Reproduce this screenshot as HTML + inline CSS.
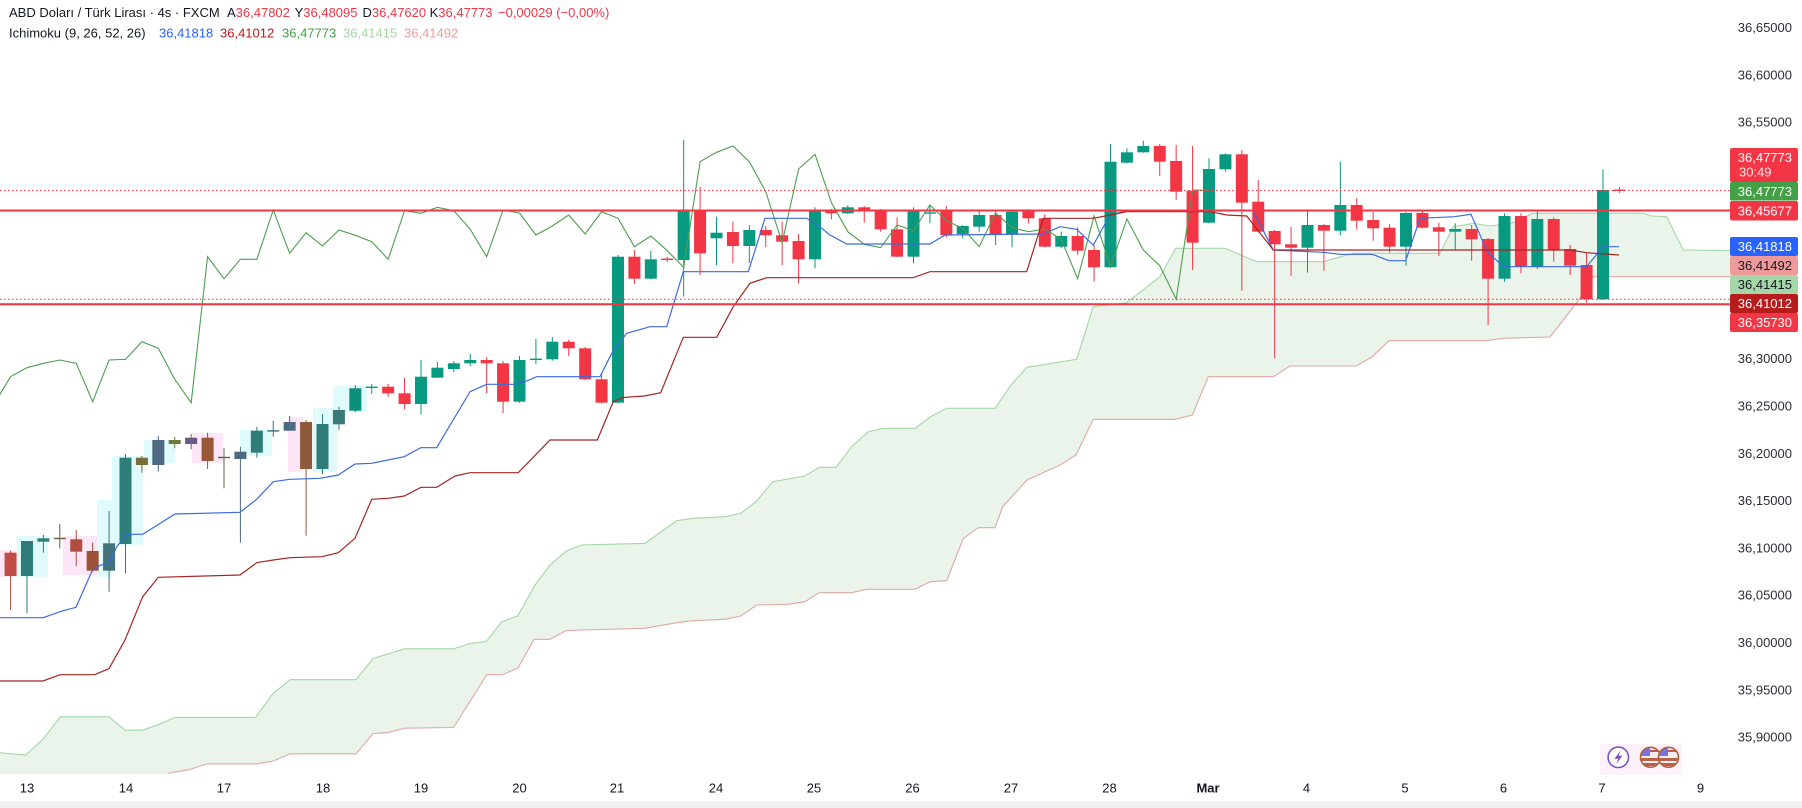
<!DOCTYPE html>
<html><head><meta charset="utf-8">
<style>
html,body{margin:0;padding:0;background:#fff;}
svg{display:block;}
text{font-family:"Liberation Sans",Arial,sans-serif;font-size:13px;}
.g{fill:#089981}.r{fill:#f23645}
</style></head>
<body>
<svg width="1802" height="808" viewBox="0 0 1802 808" xmlns="http://www.w3.org/2000/svg">
<defs>
<clipPath id="plot"><rect x="0" y="0" width="1730" height="774"/></clipPath>
<clipPath id="f1"><circle cx="1650.5" cy="757.3" r="10"/></clipPath>
<clipPath id="f2"><circle cx="1668.5" cy="757.3" r="10"/></clipPath>
</defs>
<rect width="1802" height="808" fill="#fff"/>
<g clip-path="url(#plot)">
<!-- highlight rects -->
<g opacity="0.9">
<rect x="0" y="550" width="16" height="27" fill="#fde4f5"/>
<rect x="17" y="536" width="31" height="41" fill="#dcfbfb"/>
<rect x="63" y="536" width="35" height="39" fill="#fde4f5"/>
<rect x="97" y="500" width="15" height="77" fill="#dcfbfb"/>
<rect x="112" y="456" width="31" height="89" fill="#dcfbfb"/>
<rect x="144" y="440" width="31" height="23" fill="#dcfbfb"/>
<rect x="192" y="433" width="31" height="30" fill="#fde4f5"/>
<rect x="240" y="430" width="32" height="26" fill="#dcfbfb"/>
<rect x="288" y="417" width="15" height="55" fill="#fde4f5"/>
<rect x="313" y="408" width="24" height="64" fill="#dcfbfb"/>
<rect x="333" y="386" width="34" height="26" fill="#dcfbfb"/>
</g>
<!-- cloud -->
<path fill="#eaf4eb" d="M0,752.8 L25.8,755 L43,739.3 L60.3,716.8 L109,716.8 L125,730.2 L142.4,730.2 L157.9,724.8 L175,717.4 L255.5,717.4 L272.7,693.9 L290,679.7 L356,679.7 L373,658.5 L404.7,648.8 L453.5,648.8 L470.7,643.4 L486,641.7 L501.7,621.7 L517.7,616 L535,585 L550,565 L566.7,550.7 L581.7,545 L645,543.3 L676.7,520.7 L693.3,518.3 L725,516.7 L740.7,513.3 L756,501.7 L772.7,481.7 L805,476 L819.3,467.3 L836,467.3 L851.7,446.7 L868.3,431.7 L883.3,428.3 L915,428.3 L931.7,416 L946.7,408.3 L995,408.3 L1011,385 L1027,367.3 L1076.7,359.3 L1093.3,306.7 L1126.7,302.7 L1160,276.7 L1175.7,248.3 L1225,248.3 L1256.7,261.7 L1323.3,261.7 L1353.3,253.3 L1440,253.3 L1453.3,226.7 L1473.3,223.3 L1490,226 L1511.7,223.3 L1533,213.3 L1643.3,213.3 L1651.7,216 L1666.7,216.7 L1683.3,250 L1740,250.7 L1740,276.7 L1593,276.7 L1580,298.3 L1563.3,320 L1550,337 L1503.3,338.3 L1486.7,340.7 L1389,340.7 L1372.3,356.7 L1356,366 L1290,366 L1273.3,376.7 L1208.3,376.7 L1192.3,415 L1175.7,419.3 L1093.3,419.3 L1076,455 L1060,465 L1027,480 L1002.7,506.7 L995,527.7 L978.3,527.7 L963.3,538.3 L946.7,580.7 L930,581.7 L915,589.3 L866.7,589.3 L851.7,592.7 L819.3,592.7 L805,601.7 L788.3,604.3 L756.7,605 L740.7,616 L725,619.3 L693.3,620.7 L676.7,622.7 L645,628.3 L581.7,630 L566,630.7 L550,639.3 L534,639.3 L518,668 L502.3,674.7 L486.8,674.7 L453.5,727.5 L404.7,728.2 L387.5,732.6 L373,733.6 L356,753.8 L290,753.8 L272.7,761.2 L255.5,763.9 L206.7,763.9 L189.4,769.6 L169.3,773 L160,800 L0,800 Z"/>
<polyline fill="none" stroke="#a5d6a7" stroke-width="1.1" points="0,752.8 25.8,755 43,739.3 60.3,716.8 109,716.8 125,730.2 142.4,730.2 157.9,724.8 175,717.4 255.5,717.4 272.7,693.9 290,679.7 356,679.7 373,658.5 404.7,648.8 453.5,648.8 470.7,643.4 486,641.7 501.7,621.7 517.7,616 535,585 550,565 566.7,550.7 581.7,545 645,543.3 676.7,520.7 693.3,518.3 725,516.7 740.7,513.3 756,501.7 772.7,481.7 805,476 819.3,467.3 836,467.3 851.7,446.7 868.3,431.7 883.3,428.3 915,428.3 931.7,416 946.7,408.3 995,408.3 1011,385 1027,367.3 1076.7,359.3 1093.3,306.7 1126.7,302.7 1160,276.7 1175.7,248.3 1225,248.3 1256.7,261.7 1323.3,261.7 1353.3,253.3 1440,253.3 1453.3,226.7 1473.3,223.3 1490,226 1511.7,223.3 1533,213.3 1643.3,213.3 1651.7,216 1666.7,216.7 1683.3,250 1740,250.7"/>
<polyline fill="none" stroke="#e0a8a4" stroke-width="1.1" points="160,800 169.3,773 189.4,769.6 206.7,763.9 255.5,763.9 272.7,761.2 290,753.8 356,753.8 373,733.6 387.5,732.6 404.7,728.2 453.5,727.5 486.8,674.7 502.3,674.7 518,668 534,639.3 550,639.3 566,630.7 581.7,630 645,628.3 676.7,622.7 693.3,620.7 725,619.3 740.7,616 756.7,605 788.3,604.3 805,601.7 819.3,592.7 851.7,592.7 866.7,589.3 915,589.3 930,581.7 946.7,580.7 963.3,538.3 978.3,527.7 995,527.7 1002.7,506.7 1027,480 1060,465 1076,455 1093.3,419.3 1175.7,419.3 1192.3,415 1208.3,376.7 1273.3,376.7 1290,366 1356,366 1372.3,356.7 1389,340.7 1486.7,340.7 1503.3,338.3 1550,337 1563.3,320 1580,298.3 1593,276.7 1740,276.7"/>

<!-- candles -->
<g transform="translate(27 0) scale(16.4167 1)">
<rect x="-1.366" y="552.7" width=".731" height="23.3" fill="#c14b45"/><rect x="-1.031" y="550.7" width=".061" height="59.3" fill="#c14b45"/>
<rect x="-0.366" y="541" width=".731" height="35" fill="#2f7d78"/><rect x="-0.031" y="541" width=".061" height="72.3" fill="#2f7d78"/>
<rect x="0.634" y="538.3" width=".731" height="3.4" fill="#2f7d78"/><rect x="0.969" y="535" width=".061" height="17.7" fill="#2f7d78"/>
<rect x="1.634" y="537.8" width=".731" height="1.4" fill="#6a5a48"/><rect x="1.969" y="524" width=".061" height="24.3" fill="#6a5a48"/>
<rect x="2.634" y="539.3" width=".731" height="12.4" fill="#b14c40"/><rect x="2.969" y="530" width=".061" height="36" fill="#b14c40"/>
<rect x="3.634" y="551" width=".731" height="19.7" fill="#9a5238"/><rect x="3.969" y="542.7" width=".061" height="28" fill="#9a5238"/>
<rect x="4.634" y="543.3" width=".731" height="27.4" fill="#44707a"/><rect x="4.969" y="511" width=".061" height="80.7" fill="#44707a"/>
<rect x="5.634" y="457.7" width=".731" height="86.3" fill="#2f7d78"/><rect x="5.969" y="454" width=".061" height="119.3" fill="#2f7d78"/>
<rect x="6.634" y="457.7" width=".731" height="7.3" fill="#7b6c3c"/><rect x="6.969" y="456" width=".061" height="16.7" fill="#7b6c3c"/>
<rect x="7.634" y="440" width=".731" height="25" fill="#4d6a82"/><rect x="7.969" y="436" width=".061" height="35.7" fill="#4d6a82"/>
<rect x="8.634" y="440" width=".731" height="4" fill="#6e7a3c"/><rect x="8.969" y="437" width=".061" height="11.3" fill="#6e7a3c"/>
<rect x="9.634" y="437.7" width=".731" height="6.3" fill="#6a5a86"/><rect x="9.969" y="434" width=".061" height="15.3" fill="#6a5a86"/>
<rect x="10.634" y="437.7" width=".731" height="23.3" fill="#985838"/><rect x="10.969" y="432.7" width=".061" height="36.3" fill="#985838"/>
<rect x="11.634" y="456.8" width=".731" height="1.4" fill="#6a5a48"/><rect x="11.969" y="448.3" width=".061" height="40" fill="#6a5a48"/>
<rect x="12.634" y="451.7" width=".731" height="7.3" fill="#4d6a82"/><rect x="12.969" y="446.7" width=".061" height="96" fill="#4d6a82"/>
<rect x="13.634" y="430.7" width=".731" height="22" fill="#2f7d78"/><rect x="13.969" y="426.7" width=".061" height="31" fill="#2f7d78"/>
<rect x="14.634" y="430.2" width=".731" height="1.4" fill="#3f6f70"/><rect x="14.969" y="420.7" width=".061" height="16" fill="#3f6f70"/>
<rect x="15.634" y="422" width=".731" height="8.7" fill="#4d6a82"/><rect x="15.969" y="416" width=".061" height="14.7" fill="#4d6a82"/>
<rect x="16.634" y="422" width=".731" height="47" fill="#8f5a3a"/><rect x="16.969" y="420" width=".061" height="115.7" fill="#8f5a3a"/>
<rect x="17.634" y="424" width=".731" height="45" fill="#2f7d78"/><rect x="17.969" y="414.3" width=".061" height="59.7" fill="#2f7d78"/>
<rect x="18.634" y="410" width=".731" height="14.3" fill="#3a7a78"/><rect x="18.969" y="406.7" width=".061" height="23.3" fill="#3a7a78"/>
<rect x="19.634" y="388.3" width=".731" height="22.4" fill="#0e8f7c"/><rect x="19.969" y="385" width=".061" height="27" fill="#0e8f7c"/>
<rect class="g" x="20.634" y="386.6" width=".731" height="1.4"/><rect class="g" x="20.969" y="384" width=".061" height="10"/>
<rect class="r" x="21.634" y="386.7" width=".731" height="6.6"/><rect class="r" x="21.969" y="384" width=".061" height="12.7"/>
<rect class="r" x="22.634" y="393.3" width=".731" height="10.7"/><rect class="r" x="22.969" y="377.7" width=".061" height="31.6"/>
<rect class="g" x="23.634" y="376.7" width=".731" height="27.3"/><rect class="g" x="23.969" y="360" width=".061" height="54.3"/>
<rect class="g" x="24.634" y="367.7" width=".731" height="10"/><rect class="g" x="24.969" y="362" width=".061" height="15.7"/>
<rect class="g" x="25.634" y="363.3" width=".731" height="5.7"/><rect class="g" x="25.969" y="361" width=".061" height="11"/>
<rect class="g" x="26.634" y="360" width=".731" height="3.3"/><rect class="g" x="26.969" y="354" width=".061" height="12"/>
<rect class="r" x="27.634" y="360" width=".731" height="3.3"/><rect class="r" x="27.969" y="357" width=".061" height="36.3"/>
<rect class="r" x="28.634" y="363.3" width=".731" height="38.4"/><rect class="r" x="28.969" y="361" width=".061" height="52"/>
<rect class="g" x="29.634" y="360" width=".731" height="41.7"/><rect class="g" x="29.969" y="356" width=".061" height="46.7"/>
<rect class="g" x="30.634" y="358.6" width=".731" height="1.4"/><rect class="g" x="30.969" y="339" width=".061" height="25"/>
<rect class="g" x="31.634" y="341.7" width=".731" height="17.6"/><rect class="g" x="31.969" y="337" width=".061" height="23.7"/>
<rect class="r" x="32.634" y="341.7" width=".731" height="6.6"/><rect class="r" x="32.969" y="340" width=".061" height="16"/>
<rect class="r" x="33.634" y="348.3" width=".731" height="31"/><rect class="r" x="33.969" y="347" width=".061" height="33"/>
<rect class="r" x="34.634" y="379.3" width=".731" height="23.4"/><rect class="r" x="34.969" y="373" width=".061" height="30.5"/>
<rect class="g" x="35.634" y="256.7" width=".731" height="146"/><rect class="g" x="35.969" y="255" width=".061" height="148.5"/>
<rect class="r" x="36.634" y="256.7" width=".731" height="22"/><rect class="r" x="36.969" y="250" width=".061" height="34"/>
<rect class="g" x="37.634" y="259.3" width=".731" height="19.4"/><rect class="g" x="37.969" y="251" width=".061" height="28.5"/>
<rect class="r" x="38.634" y="258.6" width=".731" height="1.4"/><rect class="r" x="38.969" y="256.7" width=".061" height="5"/>
<rect class="g" x="39.634" y="210" width=".731" height="50"/><rect class="g" x="39.969" y="140" width=".061" height="156.7"/>
<rect class="r" x="40.634" y="210.7" width=".731" height="42.6"/><rect class="r" x="40.969" y="186.7" width=".061" height="88.3"/>
<rect class="g" x="41.634" y="232.7" width=".731" height="5.6"/><rect class="g" x="41.969" y="216.7" width=".061" height="48.3"/>
<rect class="r" x="42.634" y="232" width=".731" height="14"/><rect class="r" x="42.969" y="221.7" width=".061" height="41.6"/>
<rect class="g" x="43.634" y="230" width=".731" height="16"/><rect class="g" x="43.969" y="225" width=".061" height="38"/>
<rect class="r" x="44.634" y="230" width=".731" height="5.3"/><rect class="r" x="44.969" y="226" width=".061" height="21.3"/>
<rect class="r" x="45.634" y="235.3" width=".731" height="6.4"/><rect class="r" x="45.969" y="221.7" width=".061" height="43.3"/>
<rect class="r" x="46.634" y="241" width=".731" height="18.3"/><rect class="r" x="46.969" y="234" width=".061" height="49.3"/>
<rect class="g" x="47.634" y="210.7" width=".731" height="48.6"/><rect class="g" x="47.969" y="207.3" width=".061" height="61"/>
<rect class="r" x="48.634" y="210" width=".731" height="3.3"/><rect class="r" x="48.969" y="209" width=".061" height="10.3"/>
<rect class="g" x="49.634" y="207.3" width=".731" height="6"/><rect class="g" x="49.969" y="205" width=".061" height="9"/>
<rect class="r" x="50.634" y="207.3" width=".731" height="3.4"/><rect class="r" x="50.969" y="206" width=".061" height="16.7"/>
<rect class="r" x="51.634" y="210" width=".731" height="19.3"/><rect class="r" x="51.969" y="209" width=".061" height="22.7"/>
<rect class="r" x="52.634" y="229.3" width=".731" height="27.4"/><rect class="r" x="52.969" y="217.3" width=".061" height="39.7"/>
<rect class="g" x="53.634" y="210" width=".731" height="46.7"/><rect class="g" x="53.969" y="207.3" width=".061" height="56"/>
<rect class="g" x="54.634" y="212.3" width=".731" height="1.4"/><rect class="g" x="54.969" y="205" width=".061" height="18.3"/>
<rect class="r" x="55.634" y="210.7" width=".731" height="24.3"/><rect class="r" x="55.969" y="206" width=".061" height="31"/>
<rect class="g" x="56.634" y="226" width=".731" height="8"/><rect class="g" x="56.969" y="225" width=".061" height="13.3"/>
<rect class="g" x="57.634" y="215" width=".731" height="11.7"/><rect class="g" x="57.969" y="210.7" width=".061" height="21"/>
<rect class="r" x="58.634" y="215" width=".731" height="19"/><rect class="r" x="58.969" y="211.7" width=".061" height="33.3"/>
<rect class="g" x="59.634" y="211.7" width=".731" height="22.3"/><rect class="g" x="59.969" y="210" width=".061" height="37.3"/>
<rect class="r" x="60.634" y="210.7" width=".731" height="7.6"/><rect class="r" x="60.969" y="209" width=".061" height="14.3"/>
<rect class="r" x="61.634" y="218.3" width=".731" height="28.4"/><rect class="r" x="61.969" y="214" width=".061" height="33.5"/>
<rect class="g" x="62.634" y="236" width=".731" height="10.7"/><rect class="g" x="62.969" y="231.7" width=".061" height="16.6"/>
<rect class="r" x="63.634" y="236" width=".731" height="14.7"/><rect class="r" x="63.969" y="227.3" width=".061" height="27.7"/>
<rect class="r" x="64.634" y="250" width=".731" height="17.3"/><rect class="r" x="64.969" y="245" width=".061" height="36.7"/>
<rect class="g" x="65.634" y="161.7" width=".731" height="105.6"/><rect class="g" x="65.969" y="144" width=".061" height="124"/>
<rect class="g" x="66.634" y="152.3" width=".731" height="10.4"/><rect class="g" x="66.969" y="148.3" width=".061" height="15.2"/>
<rect class="g" x="67.634" y="146" width=".731" height="6.3"/><rect class="g" x="67.969" y="140.7" width=".061" height="12.1"/>
<rect class="r" x="68.634" y="146" width=".731" height="15.7"/><rect class="r" x="68.969" y="144" width=".061" height="32"/>
<rect class="r" x="69.634" y="161" width=".731" height="30.7"/><rect class="r" x="69.969" y="145" width=".061" height="55"/>
<rect class="r" x="70.634" y="190.7" width=".731" height="52"/><rect class="r" x="70.969" y="146" width=".061" height="124"/>
<rect class="g" x="71.634" y="169" width=".731" height="53.7"/><rect class="g" x="71.969" y="158.3" width=".061" height="65.2"/>
<rect class="g" x="72.634" y="154.3" width=".731" height="15"/><rect class="g" x="72.969" y="153.3" width=".061" height="18.4"/>
<rect class="r" x="73.634" y="154.3" width=".731" height="48.4"/><rect class="r" x="73.969" y="150" width=".061" height="140.7"/>
<rect class="r" x="74.634" y="201.7" width=".731" height="30"/><rect class="r" x="74.969" y="180" width=".061" height="52.5"/>
<rect class="r" x="75.634" y="231" width=".731" height="13.3"/><rect class="r" x="75.969" y="230" width=".061" height="128.3"/>
<rect class="r" x="76.634" y="244.3" width=".731" height="3.4"/><rect class="r" x="76.969" y="226.7" width=".061" height="49"/>
<rect class="g" x="77.634" y="225" width=".731" height="22.7"/><rect class="g" x="77.969" y="210" width=".061" height="62.7"/>
<rect class="r" x="78.634" y="225" width=".731" height="5.7"/><rect class="r" x="78.969" y="224" width=".061" height="46.7"/>
<rect class="g" x="79.634" y="205" width=".731" height="25.7"/><rect class="g" x="79.969" y="161.7" width=".061" height="73.3"/>
<rect class="r" x="80.634" y="205" width=".731" height="15.7"/><rect class="r" x="80.969" y="198.3" width=".061" height="31"/>
<rect class="r" x="81.634" y="220" width=".731" height="8.3"/><rect class="r" x="81.969" y="212" width=".061" height="28.7"/>
<rect class="r" x="82.634" y="227.7" width=".731" height="19"/><rect class="r" x="82.969" y="224" width=".061" height="28.7"/>
<rect class="g" x="83.634" y="213" width=".731" height="33.7"/><rect class="g" x="83.969" y="212" width=".061" height="53.7"/>
<rect class="r" x="84.634" y="213" width=".731" height="14.7"/><rect class="r" x="84.969" y="210" width=".061" height="18.5"/>
<rect class="r" x="85.634" y="227.3" width=".731" height="4.4"/><rect class="r" x="85.969" y="222.7" width=".061" height="33.3"/>
<rect class="g" x="86.634" y="229" width=".731" height="2.7"/><rect class="g" x="86.969" y="223.3" width=".061" height="27.4"/>
<rect class="r" x="87.634" y="229" width=".731" height="10.3"/><rect class="r" x="87.969" y="225" width=".061" height="35.7"/>
<rect class="r" x="88.634" y="239" width=".731" height="39.7"/><rect class="r" x="88.969" y="238" width=".061" height="87"/>
<rect class="g" x="89.634" y="216" width=".731" height="62.7"/><rect class="g" x="89.969" y="213.3" width=".061" height="68.4"/>
<rect class="r" x="90.634" y="216" width=".731" height="50.7"/><rect class="r" x="90.969" y="213.3" width=".061" height="60"/>
<rect class="g" x="91.634" y="219" width=".731" height="47.7"/><rect class="g" x="91.969" y="210.7" width=".061" height="58.3"/>
<rect class="r" x="92.634" y="219" width=".731" height="31"/><rect class="r" x="92.969" y="217.3" width=".061" height="44.4"/>
<rect class="r" x="93.634" y="249" width=".731" height="16.7"/><rect class="r" x="93.969" y="245" width=".061" height="30"/>
<rect class="r" x="94.634" y="265" width=".731" height="34.3"/><rect class="r" x="94.969" y="252.7" width=".061" height="50"/>
<rect class="g" x="95.634" y="190" width=".731" height="109.3"/><rect class="g" x="95.969" y="169.3" width=".061" height="130.7"/>
<rect class="r" x="96.634" y="189.6" width=".731" height="1.4"/><rect class="r" x="96.969" y="187" width=".061" height="6"/>
<!-- chikou -->
<polyline fill="none" stroke="#4f9d4f" stroke-width="1.1" vector-effect="non-scaling-stroke" points="-2,404 -1,376.7 0,367.7 1,363.3 2,360 3,363.3 4,401.7 5,360 6,359.3 7,341.7 8,348.3 9,379.3 10,402.7 11,256.7 12,278.7 13,259.3 14,259.3 15,210 16,253.3 17,232.7 18,246 19,230 20,235.3 21,241.7 22,259.3 23,210.7 24,213.3 25,207.3 26,210.7 27,229.3 28,256.7 29,210 30,213 31,235 32,226 33,215 34,234 35,211.7 36,218.3 37,246.7 38,236 39,250.7 40,267.3 41,161.7 42,152.3 43,146 44,161.7 45,191.7 46,242.7 47,169 48,154.3 49,202.7 50,231.7 51,244.3 52,247.7 53,225 54,230.7 55,205 56,220.7 57,228.3 58,246.7 59,213 60,227.7 61,231.7 62,229 63,239.3 64,278.7 65,216 66,266.7 67,219 68,250 69,265.7 70,299.3 71,190 72,190.3"/>
</g>
<!-- tenkan -->
<polyline fill="none" stroke="#3d6ae0" stroke-width="1.2" points="0,617.7 43.3,617.7 60,611.7 76,607.3 91.7,571.7 100,565.3 109.3,563.3 116.7,546.7 126.7,534.3 142.7,534.3 175,514 240,512.3 256.7,499.3 273.3,481.7 290,479.3 320,478.3 338.3,475 355,464 371.7,463.3 404.3,456.7 420.7,447.7 436.7,447.7 470,391.7 486.7,384.3 513.3,384.3 525,381.7 536.7,376.7 600,376.7 611.7,353.3 626.7,333.3 650,326.7 666.7,326.7 683.3,271.7 748.3,271.7 765,218.3 806.7,218.3 821.7,228.3 830,235 846.7,244 930,244 945,235 1043.3,234 1060,226.7 1076.7,229.3 1093.3,245 1110,215 1126.7,211 1253,210.7 1273.3,250 1323.3,252.3 1340,254.3 1372.3,254.3 1389,260.7 1405.7,260.7 1420,218.3 1454.3,216.7 1471,214.3 1487.3,251.7 1503.3,266.7 1586.6,266.7 1603,246.7 1619,246.7"/>
<!-- kijun -->
<polyline fill="none" stroke="#a52424" stroke-width="1.2" points="0,681 43,681 60,674.7 94.7,674.7 109,668.6 125,640 142.7,596.7 158.3,577.3 240,575 256.7,562.7 273.3,560 290,557.7 321.7,556.7 338.3,552.7 355,538.3 371.7,499.3 388.3,498.3 404.3,496 421,487.3 436.7,487.3 455,476 470,472.7 518.3,472.7 550,440 597.3,440 613.3,401.7 623,397.5 644.3,396 660.7,392.7 683.3,337.3 716.7,337.3 733.3,306.7 750,283.3 766.7,277.7 913,277.7 930,271.7 1026.7,271.7 1043.3,218.3 1093.3,218.3 1110,215 1126.7,211.7 1210,211.7 1226.7,215 1246.7,216 1273.3,250 1570,250 1586.6,252.7 1619,255"/>
<!-- price lines -->
<line x1="0" y1="190.5" x2="1730" y2="190.5" stroke="#f23645" stroke-width="1" stroke-dasharray="1.5 2.5"/>
<line x1="0" y1="299.3" x2="1730" y2="299.3" stroke="#d83a4a" stroke-width="1" stroke-dasharray="1.5 2.5"/>
<line x1="0" y1="210.5" x2="1730" y2="210.5" stroke="#f23645" stroke-width="2"/>
<line x1="0" y1="304.3" x2="1730" y2="304.3" stroke="#f23645" stroke-width="2"/>
</g>

<!-- event icons -->
<rect x="1600" y="744" width="82" height="31" fill="#fdf1fa"/>
<circle cx="1618.3" cy="757.3" r="10.2" fill="#fff" stroke="#7b52c8" stroke-width="1.6"/>
<path d="M1620.5,750.5 L1614.5,758.8 L1618.3,758.8 L1616.3,764.3 L1622.3,755.8 L1618.6,755.8 Z" fill="#7b52c8"/>
<g clip-path="url(#f1)">
<rect x="1640" y="747" width="21" height="21" fill="#f4eeee"/>
<rect x="1640" y="747" width="10" height="9" fill="#7a74e0"/>
<rect x="1650" y="750" width="11" height="2" fill="#c05a50"/>
<rect x="1640" y="758" width="21" height="3" fill="#b8644a"/>
<rect x="1640" y="763" width="21" height="3" fill="#c05a50"/>
</g>
<circle cx="1650.5" cy="757.3" r="10" fill="none" stroke="#b0603e" stroke-width="1.6"/>
<g clip-path="url(#f2)">
<rect x="1658" y="747" width="21" height="21" fill="#f4eeee"/>
<rect x="1658" y="747" width="10" height="9" fill="#7a74e0"/>
<rect x="1668" y="750" width="11" height="2" fill="#c05a50"/>
<rect x="1658" y="758" width="21" height="3" fill="#b8644a"/>
<rect x="1658" y="763" width="21" height="3" fill="#c05a50"/>
</g>
<circle cx="1668.5" cy="757.3" r="10" fill="none" stroke="#b0603e" stroke-width="1.6"/>

<!-- price axis labels -->
<g fill="#2a2e39" text-anchor="end">
<text x="1792" y="32.1">36,65000</text>
<text x="1792" y="79.4">36,60000</text>
<text x="1792" y="126.7">36,55000</text>
<text x="1792" y="363.2">36,30000</text>
<text x="1792" y="410.5">36,25000</text>
<text x="1792" y="457.8">36,20000</text>
<text x="1792" y="505.1">36,15000</text>
<text x="1792" y="552.4">36,10000</text>
<text x="1792" y="599.7">36,05000</text>
<text x="1792" y="647">36,00000</text>
<text x="1792" y="694.3">35,95000</text>
<text x="1792" y="741.6">35,90000</text>
</g>
<!-- price boxes -->
<rect x="1730" y="148" width="68" height="34" rx="2" fill="#f23645"/>
<rect x="1730" y="182" width="68" height="18.5" rx="2" fill="#43a047"/>
<rect x="1730" y="201" width="68" height="19.5" rx="2" fill="#f23645"/>
<rect x="1730" y="237" width="68" height="19" rx="2" fill="#2962ff"/>
<rect x="1730" y="256" width="68" height="19" rx="2" fill="#ef9a9a"/>
<rect x="1730" y="275" width="68" height="19" rx="2" fill="#a5d6a7"/>
<rect x="1730" y="294" width="68" height="19" rx="2" fill="#b71c1c"/>
<rect x="1730" y="313" width="68" height="19" rx="2" fill="#f23645"/>
<g text-anchor="end">
<text x="1792" y="162" fill="#fff">36,47773</text>
<text x="1739" y="176.5" fill="#fde2e4" text-anchor="start">30:49</text>
<text x="1792" y="195.8" fill="#fff">36,47773</text>
<text x="1792" y="215.3" fill="#fff">36,45677</text>
<text x="1792" y="251.2" fill="#fff">36,41818</text>
<text x="1792" y="270.2" fill="#131722">36,41492</text>
<text x="1792" y="289.2" fill="#131722">36,41415</text>
<text x="1792" y="308.2" fill="#fff">36,41012</text>
<text x="1792" y="327.2" fill="#fff">36,35730</text>
</g>

<!-- time axis -->
<rect x="0" y="801" width="1802" height="7" fill="#f0f1f3"/>
<g fill="#131722" text-anchor="middle">
<text x="27" y="792.6">13</text>
<text x="126" y="792.6">14</text>
<text x="224" y="792.6">17</text>
<text x="323" y="792.6">18</text>
<text x="421" y="792.6">19</text>
<text x="519.5" y="792.6">20</text>
<text x="617" y="792.6">21</text>
<text x="716" y="792.6">24</text>
<text x="814" y="792.6">25</text>
<text x="912.5" y="792.6">26</text>
<text x="1011" y="792.6">27</text>
<text x="1109.5" y="792.6">28</text>
<text x="1208" y="792.6" font-weight="bold">Mar</text>
<text x="1306.5" y="792.6">4</text>
<text x="1405" y="792.6">5</text>
<text x="1503.5" y="792.6">6</text>
<text x="1602" y="792.6">7</text>
<text x="1700.5" y="792.6">9</text>
</g>

<!-- legend -->
<text x="9" y="17.2" fill="#131722">ABD Doları / Türk Lirası · 4s · FXCM</text>
<text x="227" y="17.2"><tspan fill="#131722">A</tspan><tspan fill="#f23645">36,47802</tspan></text>
<text x="294.6" y="17.2"><tspan fill="#131722">Y</tspan><tspan fill="#f23645">36,48095</tspan></text>
<text x="362.5" y="17.2"><tspan fill="#131722">D</tspan><tspan fill="#f23645">36,47620</tspan></text>
<text x="429.6" y="17.2"><tspan fill="#131722">K</tspan><tspan fill="#f23645">36,47773</tspan></text>
<text x="498" y="17.2" fill="#f23645">−0,00029 (−0,00%)</text>
<text x="9" y="37.6" fill="#131722">Ichimoku (9, 26, 52, 26)</text>
<text x="159" y="37.6" fill="#2962ff">36,41818</text>
<text x="220" y="37.6" fill="#b71c1c">36,41012</text>
<text x="282" y="37.6" fill="#43a047">36,47773</text>
<text x="343" y="37.6" fill="#a5d6a7">36,41415</text>
<text x="404" y="37.6" fill="#ef9a9a">36,41492</text>
</svg>
</body></html>
